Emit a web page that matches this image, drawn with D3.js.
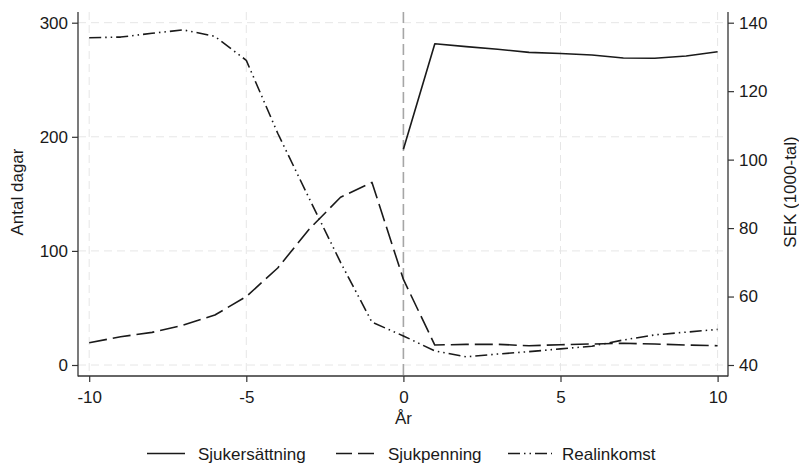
<!DOCTYPE html>
<html>
<head>
<meta charset="utf-8">
<script src="https://cdn.jsdelivr.net/npm/d3@7"></script>
<style>
  html, body { margin: 0; padding: 0; background: #fff; }
  svg { display: block; font-family: "Liberation Sans", Arial, sans-serif; }
</style>
</head>
<body>
<svg id="chart" width="799" height="464"></svg>
<script>
// Years relative to the event (år 0)
const years = d3.range(-10, 11);
const yearsAfter = d3.range(0, 11);

// Days (left axis)
const sjukersattning = [189, 281.6, 279, 276.7, 274, 273, 271.7, 269, 268.8, 270.8, 274.6];
const sjukpenning = [19.5, 24.8, 28.6, 35, 43.8, 60, 85, 119, 147, 160, 75,
                     17.5, 18.1, 18.1, 16.9, 17.8, 18.4, 19.0, 18.4, 17.5, 16.9];
// Real income, SEK thousands (right axis)
const realinkomst = [135.6, 135.8, 136.9, 137.9, 136, 129, 107.7, 88.7, 70, 52.5, 48.5,
                     44.1, 42.4, 43.2, 43.9, 44.7, 45.5, 47.3, 48.8, 49.6, 50.4];

const xTicks = [-10, -5, 0, 5, 10];
const leftTicks = [0, 100, 200, 300];
const rightTicks = [40, 60, 80, 100, 120, 140];

const seriesNames = ["Sjukersättning", "Sjukpenning", "Realinkomst"];

// Layout
const W = 799, H = 464;
const plot = { left: 78, right: 728, top: 12, bottom: 376 };
const ink = "#1a1a1a";
const fontSize = 17;

const svg = d3.select("#chart");

const x = d3.scaleLinear().domain([-10, 10]).range([89.2, 717.6]);
const yL = d3.scaleLinear().domain([0, 300]).range([365, 22.7]);
const yR = d3.scaleLinear().domain([40, 140]).range([365, 22.7]);

// Gridlines
const grid = svg.append("g");
grid.selectAll("line.h").data(leftTicks).join("line")
  .attr("x1", plot.left).attr("x2", plot.right)
  .attr("y1", d => yL(d)).attr("y2", d => yL(d))
  .attr("stroke", "#e6e6e6").attr("stroke-width", 1).attr("stroke-dasharray", "8,5");
grid.selectAll("line.v").data(xTicks.filter(d => d !== 0)).join("line")
  .attr("x1", d => x(d)).attr("x2", d => x(d))
  .attr("y1", plot.top).attr("y2", plot.bottom)
  .attr("stroke", "#e6e6e6").attr("stroke-width", 1).attr("stroke-dasharray", "8,5");

// Reference line at year 0
svg.append("line")
  .attr("x1", x(0)).attr("x2", x(0))
  .attr("y1", plot.top).attr("y2", plot.bottom)
  .attr("stroke", "#a6a6a6").attr("stroke-width", 1.6).attr("stroke-dasharray", "11,5");

// Axes
function styleAxis(g) {
  g.select(".domain").remove();
  g.selectAll(".tick line").attr("stroke", "#333").attr("stroke-width", 1.2);
  g.selectAll(".tick text").attr("fill", ink).attr("font-size", fontSize)
    .attr("font-family", "Liberation Sans, Arial, sans-serif");
}

svg.append("g").attr("transform", `translate(${plot.left},0)`)
  .call(d3.axisLeft(yL).tickValues(leftTicks).tickSize(6).tickPadding(4).tickFormat(d => String(d)))
  .call(styleAxis);

svg.append("g").attr("transform", `translate(${plot.right},0)`)
  .call(d3.axisRight(yR).tickValues(rightTicks).tickSize(6).tickPadding(5).tickFormat(d => String(d)))
  .call(styleAxis);

svg.append("g").attr("transform", `translate(0,${plot.bottom})`)
  .call(d3.axisBottom(x).tickValues(xTicks).tickSize(6).tickPadding(9).tickFormat(d => String(d)))
  .call(styleAxis);

// Axis lines (left, right, bottom)
const frame = svg.append("g").attr("stroke", "#333").attr("stroke-width", 1.3);
frame.append("line").attr("x1", plot.left).attr("x2", plot.left).attr("y1", plot.top).attr("y2", plot.bottom + 0.5);
frame.append("line").attr("x1", plot.right).attr("x2", plot.right).attr("y1", plot.top).attr("y2", plot.bottom + 0.5);
frame.append("line").attr("x1", plot.left).attr("x2", plot.right).attr("y1", plot.bottom).attr("y2", plot.bottom);

// Series lines
const styles = [
  { dash: null },
  { dash: "18,6" },
  { dash: "12,4,1.5,4,1.5,4" }
];

const lineL = d3.line().x(d => x(d[0])).y(d => yL(d[1]));
const lineR = d3.line().x(d => x(d[0])).y(d => yR(d[1]));

const lines = svg.append("g").attr("fill", "none").attr("stroke", ink)
  .attr("stroke-width", 1.6).attr("stroke-linejoin", "round");

lines.append("path")
  .attr("d", lineR(d3.zip(years, realinkomst)))
  .attr("stroke-dasharray", styles[2].dash);
lines.append("path")
  .attr("d", lineL(d3.zip(years, sjukpenning)))
  .attr("stroke-dasharray", styles[1].dash);
lines.append("path")
  .attr("d", lineL(d3.zip(yearsAfter, sjukersattning)));

// Axis titles
svg.append("text")
  .attr("transform", `translate(23,192) rotate(-90)`)
  .attr("text-anchor", "middle").attr("font-size", fontSize).attr("fill", ink)
  .text("Antal dagar");
svg.append("text")
  .attr("transform", `translate(796,192) rotate(-90)`)
  .attr("text-anchor", "middle").attr("font-size", fontSize).attr("fill", ink)
  .text("SEK (1000-tal)");
svg.append("text")
  .attr("x", x(0)).attr("y", 424)
  .attr("text-anchor", "middle").attr("font-size", fontSize).attr("fill", ink)
  .text("År");

// Legend
const legendItems = [
  { name: seriesNames[0], x1: 147, x2: 185, tx: 198 },
  { name: seriesNames[1], x1: 336, x2: 376, tx: 388 },
  { name: seriesNames[2], x1: 508, x2: 552, tx: 562 }
];
const legend = svg.append("g");
legendItems.forEach((item, i) => {
  legend.append("line")
    .attr("x1", item.x1).attr("x2", item.x2)
    .attr("y1", 453.5).attr("y2", 453.5)
    .attr("stroke", ink).attr("stroke-width", 1.6)
    .attr("stroke-dasharray", i === 1 ? "16,6" : styles[i].dash);
  legend.append("text")
    .attr("x", item.tx).attr("y", 460)
    .attr("font-size", fontSize).attr("fill", ink)
    .text(item.name);
});
</script>
</body>
</html>
